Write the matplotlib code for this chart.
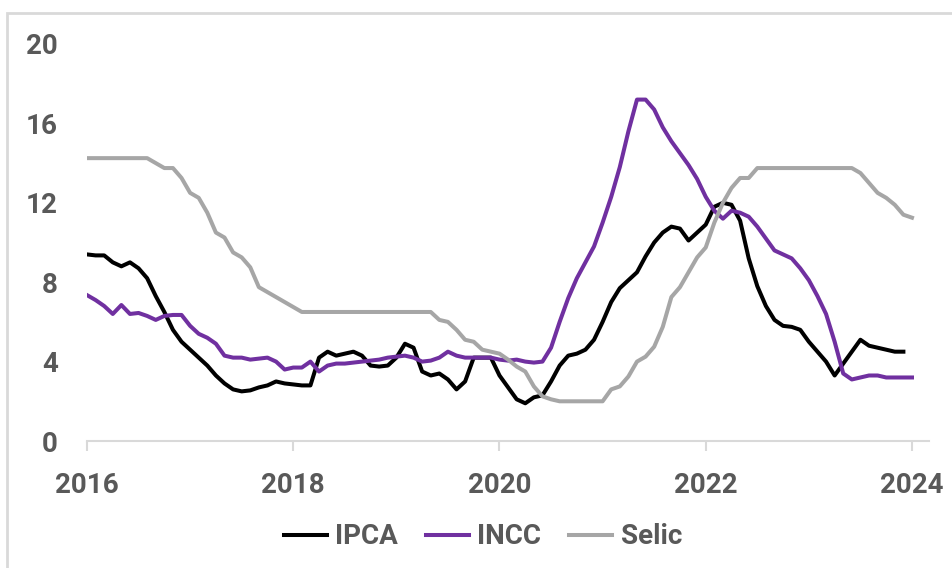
import numpy as np
import matplotlib.pyplot as plt
from matplotlib.patches import Rectangle

# monthly readings, Jan 2016 onward (% over 12 months)
ipca = [9.4, 9.35, 9.35, 9.0, 8.8, 9.0, 8.7, 8.2, 7.3, 6.5, 5.6, 5.0,
        4.6, 4.2, 3.8, 3.3, 2.9, 2.6, 2.5, 2.55, 2.7, 2.8, 3.0, 2.9,
        2.85, 2.8, 2.8, 4.2, 4.5, 4.3, 4.4, 4.5, 4.3, 3.8, 3.75, 3.8,
        4.2, 4.9, 4.7, 3.5, 3.3, 3.4, 3.1, 2.6, 3.0, 4.2, 4.2, 4.2,
        3.3, 2.7, 2.1, 1.9, 2.2, 2.3, 3.0, 3.8, 4.3, 4.4, 4.6, 5.1,
        6.0, 7.0, 7.7, 8.1, 8.5, 9.3, 10.0, 10.5, 10.8, 10.7, 10.1, 10.5,
        10.9, 11.8, 12.0, 11.9, 11.1, 9.2, 7.8, 6.8, 6.1, 5.8, 5.75, 5.6,
        5.0, 4.5, 4.0, 3.3, 3.9, 4.5, 5.1, 4.8, 4.7, 4.6, 4.5, 4.5]

incc = [7.35, 7.1, 6.8, 6.4, 6.85, 6.4, 6.45, 6.3, 6.1, 6.3, 6.35, 6.35,
        5.8, 5.4, 5.2, 4.9, 4.3, 4.2, 4.2, 4.1, 4.15, 4.2, 4.0, 3.6,
        3.7, 3.7, 4.0, 3.5, 3.8, 3.9, 3.9, 3.95, 4.0, 4.05, 4.1, 4.2,
        4.25, 4.3, 4.2, 4.0, 4.05, 4.2, 4.5, 4.3, 4.2, 4.2, 4.2, 4.2,
        4.1, 4.05, 4.1, 4.0, 3.95, 4.0, 4.7, 6.0, 7.2, 8.2, 9.0, 9.8,
        11.0, 12.3, 13.8, 15.6, 17.2, 17.2, 16.7, 15.8, 15.1, 14.5, 13.9, 13.2,
        12.3, 11.6, 11.2, 11.6, 11.5, 11.3, 10.8, 10.2, 9.6, 9.4, 9.2, 8.7,
        8.1, 7.3, 6.4, 5.0, 3.4, 3.1, 3.2, 3.3, 3.3, 3.2, 3.2, 3.2,
        3.2]

selic = [14.25, 14.25, 14.25, 14.25, 14.25, 14.25, 14.25, 14.25, 14.0, 13.75, 13.75, 13.25,
         12.5, 12.25, 11.5, 10.5, 10.25, 9.5, 9.25, 8.75, 7.75, 7.5, 7.25, 7.0,
         6.75, 6.5, 6.5, 6.5, 6.5, 6.5, 6.5, 6.5, 6.5, 6.5, 6.5, 6.5,
         6.5, 6.5, 6.5, 6.5, 6.5, 6.1, 6.0, 5.6, 5.1, 5.0, 4.6, 4.5,
         4.4, 4.1, 3.75, 3.5, 2.75, 2.25, 2.1, 2.0, 2.0, 2.0, 2.0, 2.0,
         2.0, 2.6, 2.75, 3.25, 4.0, 4.25, 4.75, 5.75, 7.25, 7.75, 8.5, 9.25,
         9.75, 11.0, 12.0, 12.75, 13.25, 13.25, 13.75, 13.75, 13.75, 13.75, 13.75, 13.75,
         13.75, 13.75, 13.75, 13.75, 13.75, 13.75, 13.5, 13.0, 12.5, 12.25, 11.9, 11.4,
         11.25]

year_ticks = [2016, 2018, 2020, 2022, 2024]
y_ticks = [0, 4, 8, 12, 16, 20]

label_color = '#595959'
axis_color = '#d9d9d9'

plt.rcParams['font.family'] = ['Roboto', 'DejaVu Sans']

fig = plt.figure(figsize=(9.52, 5.68), dpi=100)
ax = fig.add_axes([87 / 952, 1 - 441 / 568, 842 / 952, 397 / 568])

def months_to_years(values):
    return 2016 + np.arange(len(values)) / 12

ax.plot(months_to_years(ipca), ipca, color='#000000', lw=2.9, label='IPCA')
ax.plot(months_to_years(incc), incc, color='#7030a0', lw=2.9, label='INCC')
ax.plot(months_to_years(selic), selic, color='#a6a6a6', lw=2.9, label='Selic')

ax.set_xlim(2016, 2024.165)
ax.set_ylim(0, 20)
ax.set_xticks(year_ticks)
ax.set_xticklabels([str(y) for y in year_ticks])
ax.set_yticks(y_ticks)

for side in ['top', 'right', 'left']:
    ax.spines[side].set_visible(False)
ax.spines['bottom'].set_color(axis_color)
ax.spines['bottom'].set_linewidth(1.5)

ax.tick_params(axis='x', direction='out', length=7, width=1.5, color=axis_color,
               labelsize=20, labelcolor=label_color, pad=15)
ax.tick_params(axis='y', length=0, labelsize=20, labelcolor=label_color, pad=21)
for lbl in ax.get_xticklabels() + ax.get_yticklabels():
    lbl.set_fontweight('bold')

fig.legend(loc='center', bbox_to_anchor=(483 / 952, 1 - 537 / 568), ncol=3,
           frameon=False, handlelength=1.55, handletextpad=0.3, columnspacing=1.0,
           prop={'size': 20, 'weight': 'bold'}, labelcolor=label_color)

# light frame around the chart area
fig.patches.append(Rectangle((7 / 952, -0.05), 1.0, 1 - 13 / 568 + 0.05,
                             transform=fig.transFigure, fill=False,
                             edgecolor=axis_color, linewidth=2))

plt.savefig('out.png', dpi=100)
